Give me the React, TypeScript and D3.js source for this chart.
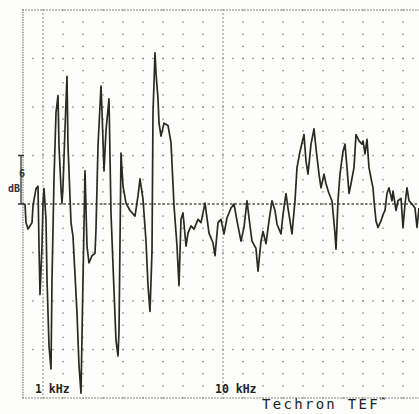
import React from "react";
import * as d3 from "d3";

// Frequency (kHz) of each traced point
const freqKHz = [
  0.1, 0.15, 0.25, 0.45, 0.5, 0.65, 0.75, 0.8, 0.85, 0.95, 1.0, 1.05, 1.15, 1.2, 1.3, 1.4, 1.45, 1.55, 1.65, 1.75,
  1.8, 1.9, 1.95, 2.0, 2.1, 2.2, 2.25, 2.4, 2.5, 2.7, 2.8, 2.9, 3.0, 3.1, 3.2, 3.3, 3.45, 3.6, 3.65, 3.75,
  3.9, 3.95, 4.05, 4.15, 4.3, 4.4, 4.55, 4.65, 4.75, 4.8, 4.9, 5.0, 5.15, 5.35, 5.6, 5.75, 5.85, 6.0, 6.15, 6.25,
  6.35, 6.45, 6.5, 6.6, 6.65, 6.75, 6.8, 6.9, 7.05, 7.25, 7.4, 7.55, 7.7, 7.8, 7.9, 8.0, 8.15, 8.25, 8.4, 8.55,
  8.75, 8.9, 9.1, 9.3, 9.5, 9.6, 9.75, 9.9, 10.05, 10.2, 10.4, 10.55, 10.7, 10.9, 11.05, 11.2, 11.3, 11.45, 11.65, 11.75,
  11.9, 12.0, 12.15, 12.3, 12.45, 12.6, 12.7, 12.9, 13.0, 13.15, 13.25, 13.45, 13.6, 13.7, 13.85, 14.05, 14.15, 14.25, 14.4, 14.55,
  14.65, 14.8, 14.9, 15.05, 15.15, 15.3, 15.45, 15.6, 15.65, 15.75, 15.85, 16.0, 16.1, 16.2, 16.3, 16.4, 16.55, 16.65, 16.8, 16.95,
  17.0, 17.1, 17.2, 17.3, 17.4, 17.5, 17.55, 17.65, 17.75, 17.9, 18.0, 18.1, 18.2, 18.3, 18.45, 18.5, 18.65, 18.75, 18.9, 19.0,
  19.1, 19.2, 19.3, 19.45, 19.6, 19.7, 19.8,
];

// Level (dB, relative to reference line) at each point
const levelDb = [
  0, -2.3, -3.1, -2.3, -0.2, 1.9, 2.2, -5.2, -11.2, -5.2, 0.1, 1.9, -1.9, -9.3, -17.6, -20.4, -9.3, 3.1, 11.3, 13.4,
  7.2, 1.9, 0.1, 2.2, 9.3, 15.8, 7.2, -2.3, -4.0, -13.5, -20.0, -23.4, -9.3, 4.1, -5.2, -7.3, -6.4, -6.1, -3.1, 7.2,
  14.6, 11.5, 4.1, 9.1, 13.0, -1.1, -10.7, -16.9, -18.8, -15.7, 6.3, 2.2, 0.1, -0.8, -1.5, 1.0, 3.1, 0.6, -4.6, -10.1,
  -13.3, -5.8, 11.3, 18.7, 16.2, 13.0, 10.0, 8.4, 10.0, 9.7, 7.6, -0.2, -5.2, -10.1, -1.9, -1.1, -5.2, -3.6, -2.7, -3.1,
  -1.9, -2.3, 0.1, -3.6, -4.8, -6.4, -2.3, -1.9, -3.7, -1.7, -0.5, 0, -2.1, -4.6, -2.9, 0.4, -1.7, -4.6, -5.5, -8.3,
  -4.6, -3.4, -4.9, -2.1, 0.4, -0.8, -2.5, -3.7, -1.3, 1.3, -0.5, -3.7, 0.4, 4.5, 6.5, 8.6, 5.3, 3.7, 7.4, 9.3,
  6.9, 3.7, 2.0, 3.7, 2.5, 1.3, 0.4, -3.7, -5.6, 0.4, 3.7, 6.5, 7.4, 4.5, 1.3, 2.5, 4.5, 8.6, 7.8, 7.4,
  7.8, 6.2, 8.0, 4.5, 3.2, 2.0, 0.4, -2.1, -2.9, -2.1, -1.3, -0.8, 1.3, 2.0, 0.4, 1.6, -0.8, 0.4, 0.7, -2.9,
  0, 2.0, 0.4, 0, -0.5, -2.9, -0.5,
];

const freqLabels = [
  { f: 1, text: "1 kHz" },
  { f: 10, text: "10 kHz" },
];

const scaleLabel = "6";
const scaleUnit = "dB";
const brandText = "Techron TEF";

const W = 419;
const H = 414;
const DB_PER_DIV = 6;
const DIVS = 4;

export default function App() {
  const x = d3.scaleLinear().domain([0, 20]).range([23, 423]);
  const y = d3.scaleLinear().domain([-DB_PER_DIV * DIVS, DB_PER_DIV * DIVS]).range([398, 10]);

  const data = freqKHz.map((f, i) => ({ f, v: levelDb[i] }));
  const line = d3
    .line<{ f: number; v: number }>()
    .x((d) => x(d.f))
    .y((d) => y(d.v));

  const dots: { cx: number; cy: number }[] = [];
  const minorStep = DB_PER_DIV / 4;
  const top = y(DB_PER_DIV * DIVS);
  const bottom = y(-DB_PER_DIV * DIVS);
  // columns every 1 kHz with dots at every minor row
  for (let k = 1; k <= 20; k++) {
    const dense = k === 1 || k === 10;
    if (dense) {
      for (let yy = top; yy <= bottom; yy += 4) dots.push({ cx: x(k), cy: yy });
    } else {
      for (let v = -DB_PER_DIV * DIVS; v <= DB_PER_DIV * DIVS + 1e-6; v += minorStep)
        dots.push({ cx: x(k), cy: y(v) });
    }
  }
  // major rows with dots every 0.5 kHz
  for (let d = -DIVS + 1; d <= DIVS - 1; d++) {
    if (d === 0) continue;
    for (let f = 0.5; f < 20; f += 0.5) dots.push({ cx: x(f), cy: y(d * DB_PER_DIV) });
  }
  // frame: top, bottom, left (dense)
  for (let xx = x(0); xx <= W; xx += 3) {
    dots.push({ cx: xx, cy: top });
    dots.push({ cx: xx, cy: bottom });
  }
  for (let yy = top; yy <= bottom; yy += 2.5) dots.push({ cx: x(0), cy: yy });

  const y0 = y(0);

  return (
    <svg
      width={W}
      height={H}
      style={{ position: "absolute", left: 0, top: 0, background: "#fdfdfa" }}
    >
      <rect x={0} y={0} width={W} height={H} fill="#fdfdfa" />
      {dots.map((d, i) => (
        <rect key={i} x={d.cx - 0.7} y={d.cy - 0.7} width={1.4} height={1.4} fill="#858580" />
      ))}
      {/* reference 0 dB line */}
      <line
        x1={x(0)}
        x2={W}
        y1={y0}
        y2={y0}
        stroke="#55554d"
        strokeWidth={1.3}
        strokeDasharray="2.5 2"
      />
      {/* scale bracket */}
      <path
        d={`M18,${y(DB_PER_DIV)} H24 M21,${y(DB_PER_DIV)} V${y0} M18,${y0} H24`}
        stroke="#333"
        strokeWidth={1.3}
        fill="none"
      />
      <text x={19} y={y(DB_PER_DIV) + 21} fontFamily="DejaVu Sans Mono" fontSize={10} fontWeight="bold" fill="#333">
        {scaleLabel}
      </text>
      <text x={8} y={y(DB_PER_DIV) + 36} fontFamily="DejaVu Sans Mono" fontSize={10} fontWeight="bold" fill="#333">
        {scaleUnit}
      </text>
      {/* response curve */}
      <path d={line(data) ?? ""} fill="none" stroke="#2a2a22" strokeWidth={1.7} strokeLinejoin="round" />
      {freqLabels.map((l) => (
        <text
          key={l.text}
          x={x(l.f) - 8}
          y={393}
          fontFamily="DejaVu Sans Mono"
          fontSize={11.5}
          fontWeight="bold"
          fill="#222"
        >
          {l.text}
        </text>
      ))}
      <text x={262} y={409} fontFamily="DejaVu Sans Mono" fontSize={14} letterSpacing={2.3} fill="#222">
        {brandText}
        <tspan fontSize={9} dy={-5}>
          ™
        </tspan>
      </text>
    </svg>
  );
}
